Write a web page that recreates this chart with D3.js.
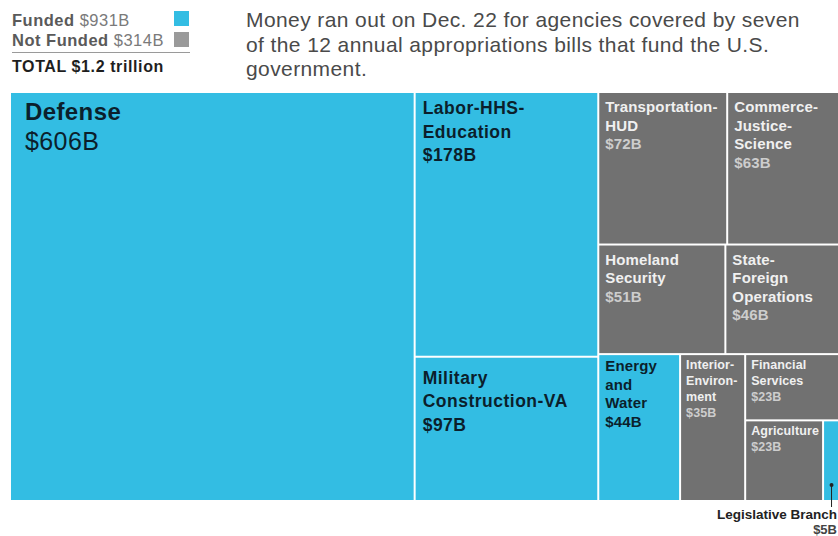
<!DOCTYPE html>
<html>
<head>
<meta charset="utf-8">
<script src="https://cdn.jsdelivr.net/npm/d3@7"></script>
<style>
  html, body { margin: 0; padding: 0; background: #fff; }
  svg { display: block; font-family: "Liberation Sans", Arial, Helvetica, sans-serif; }
</style>
</head>
<body>
<div id="chart"></div>
<script>
// appropriations bills, in the order they are laid out
const categories = [
    'Defense', 'Labor-HHS-Education', 'Military Construction-VA',
    'Transportation-HUD', 'Commerce-Justice-Science',
    'Homeland Security', 'State-Foreign Operations',
    'Energy and Water', 'Interior-Environment', 'Financial Services',
    'Agriculture', 'Legislative Branch'
];
const values = [606, 178, 97, 72, 63, 51, 46, 44, 35, 23, 23, 5];
const funded = [true, true, true, false, false, false, false, true, false, false, false, true];
const labelLines = [
    ['Defense'], ['Labor-HHS-', 'Education'], ['Military', 'Construction-VA'],
    ['Transportation-', 'HUD'], ['Commerce-', 'Justice-', 'Science'],
    ['Homeland', 'Security'], ['State-', 'Foreign', 'Operations'],
    ['Energy', 'and', 'Water'], ['Interior-', 'Environ-', 'ment'], ['Financial', 'Services'],
    ['Agriculture'], []
];
// nesting of the slice/dice layout (indexes into the arrays above)
const layoutGroups = [0, [1, 2], [[3, 4], [5, 6], [7, 8, [9, [10, 11]]]]];

const legendLabels = ['Funded', 'Not Funded'];
const legendValues = ['$931B', '$314B'];
const totalLabel = ['TOTAL', '$1.2 trillion'];
const titleLines = [
    'Money ran out on Dec. 22 for agencies covered by seven',
    'of the 12 annual appropriations bills that fund the U.S.',
    'government.'
];

const width = 838, height = 536;
const cyan = '#33bde3', gray = '#717171';
const map = { left: 11, top: 93, width: 828, height: 407 };

const svg = d3.select('#chart')
    .append('svg')
    .attr('width', width)
    .attr('height', height);

// Legend
const legend = svg.append('g');
legendLabels.forEach((lab, i) => {
    const t = legend.append('text')
        .attr('x', 12)
        .attr('y', 26 + i * 20)
        .style('font-size', '16.5px')
        .style('letter-spacing', '0.5px');
    t.append('tspan').text(lab + ' ').style('font-weight', 'bold').style('fill', '#5a5a5a');
    t.append('tspan').text(legendValues[i]).style('fill', '#7a7a7a');
    legend.append('rect')
        .attr('x', 174)
        .attr('y', 11 + i * 21)
        .attr('width', 15)
        .attr('height', 15)
        .attr('fill', i === 0 ? cyan : '#9a9a9a');
});
legend.append('line')
    .attr('x1', 12).attr('x2', 190)
    .attr('y1', 52.5).attr('y2', 52.5)
    .attr('stroke', '#9a9a9a')
    .attr('stroke-width', 1);
const tot = legend.append('text')
    .attr('x', 12)
    .attr('y', 72)
    .style('font-size', '16px')
    .style('letter-spacing', '0.6px')
    .style('fill', '#1e1e1e');
tot.append('tspan').text(totalLabel[0] + ' ').style('font-weight', 'bold');
tot.append('tspan').text(totalLabel[1]).style('font-weight', 'bold');

// Title
svg.append('g').selectAll('text')
    .data(titleLines)
    .enter()
    .append('text')
    .text(d => d)
    .attr('x', 246)
    .attr('y', (d, i) => 27 + i * 24.5)
    .style('font-size', '21px')
    .style('letter-spacing', '0.4px')
    .style('fill', '#4a4a4a');

// Treemap
function build(node) {
    if (Array.isArray(node)) return { children: node.map(build) };
    return { index: node, name: categories[node], value: values[node] };
}
const root = d3.hierarchy(build(layoutGroups))
    .sum(d => d.children ? 0 : d.value);

d3.treemap()
    .tile(d3.treemapSliceDice)
    .size([map.width, map.height])
    .paddingInner(2)(root);

const g = svg.append('g')
    .attr('transform', `translate(${map.left},${map.top})`);

const leaves = root.leaves();

const cells = g.selectAll('.cell')
    .data(leaves)
    .enter()
    .append('g')
    .attr('class', 'cell')
    .attr('transform', d => `translate(${d.x0},${d.y0})`);

cells.append('rect')
    .attr('width', d => d.x1 - d.x0)
    .attr('height', d => d.y1 - d.y0)
    .attr('fill', d => funded[d.data.index] ? cyan : gray);

function labelStyle(d) {
    const v = d.data.value;
    if (v >= 500) return { size: 24, valueSize: 25, lh: 29, top: 27, pad: 14, ls: 0.4, valueWeight: 'normal' };
    if (v >= 90) return { size: 17.5, valueSize: 17.5, lh: 23.5, top: d.y0 > 100 ? 26 : 21, pad: 7, ls: 0.5, valueWeight: 'bold' };
    if (v >= 40) return { size: 15, valueSize: 15, lh: 18.5, top: funded[d.data.index] ? 16 : 19, pad: 6, ls: 0.15, valueWeight: 'bold' };
    return { size: 12.5, valueSize: 12.5, lh: 16, top: 14, pad: 5, ls: 0.1, valueWeight: 'bold' };
}

cells.each(function(d) {
    const lines = labelLines[d.data.index];
    if (!lines.length) return;
    const s = labelStyle(d);
    const isFunded = funded[d.data.index];
    const cell = d3.select(this);
    const all = lines.concat(['$' + d.data.value + 'B']);
    cell.selectAll('text')
        .data(all)
        .enter()
        .append('text')
        .text(t => t)
        .attr('x', s.pad)
        .attr('y', (t, i) => s.top + i * s.lh + (i === lines.length && s.valueSize > s.size ? 1 : 0))
        .style('font-size', (t, i) => (i === lines.length ? s.valueSize : s.size) + 'px')
        .style('letter-spacing', s.ls + 'px')
        .style('font-weight', (t, i) => i === lines.length ? s.valueWeight : 'bold')
        .style('fill', (t, i) => isFunded ? '#0b1f2c' : (i === lines.length ? '#cdcdcd' : '#f0f0f0'));
});

// callout for the sliver
const leg = leaves.find(d => d.data.name === 'Legislative Branch');
const cx = map.left + (leg.x0 + leg.x1) / 2;
const by = map.top + leg.y1;
svg.append('line')
    .attr('x1', cx).attr('x2', cx)
    .attr('y1', by - 15).attr('y2', by + 7)
    .attr('stroke', '#222')
    .attr('stroke-width', 1);
svg.append('circle')
    .attr('cx', cx).attr('cy', by - 15)
    .attr('r', 2)
    .attr('fill', '#222');
svg.append('text')
    .text(leg.data.name)
    .attr('x', width - 1)
    .attr('y', by + 19)
    .attr('text-anchor', 'end')
    .style('font-size', '13.5px')
    .style('font-weight', 'bold')
    .style('fill', '#222');
svg.append('text')
    .text('$' + leg.data.value + 'B')
    .attr('x', width - 1)
    .attr('y', by + 34)
    .attr('text-anchor', 'end')
    .style('font-size', '13px')
    .style('font-weight', 'bold')
    .style('fill', '#444');
</script>
</body>
</html>
